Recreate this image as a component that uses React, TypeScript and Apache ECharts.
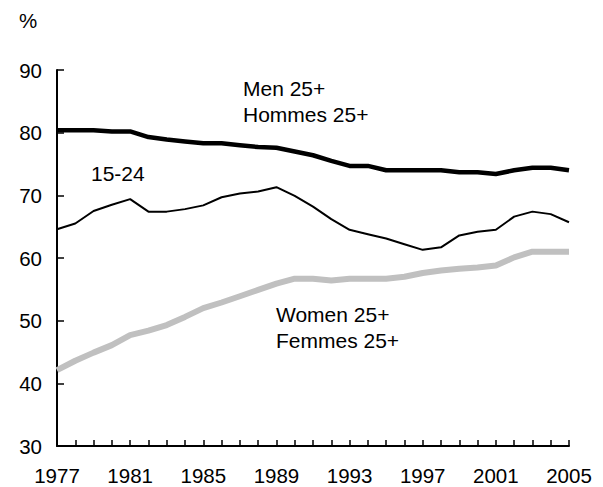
import React, { useEffect, useRef } from "react";
import * as echarts from "echarts";

const years: string[] = [];
for (let y = 1977; y <= 2005; y++) years.push(String(y));

const men25 = [80.4, 80.4, 80.4, 80.2, 80.2, 79.3, 78.9, 78.6, 78.3, 78.3, 78.0, 77.7, 77.6, 77.0, 76.4, 75.5, 74.7, 74.7, 74.0, 74.0, 74.0, 74.0, 73.7, 73.7, 73.4, 74.0, 74.4, 74.4, 74.0];
const youth1524 = [64.6, 65.5, 67.5, 68.5, 69.4, 67.4, 67.4, 67.8, 68.4, 69.7, 70.3, 70.6, 71.3, 69.9, 68.2, 66.2, 64.5, 63.8, 63.1, 62.2, 61.3, 61.7, 63.6, 64.2, 64.5, 66.6, 67.4, 67.0, 65.7];
const women25 = [42.1, 43.6, 44.9, 46.1, 47.7, 48.4, 49.3, 50.6, 52.0, 52.9, 53.9, 54.9, 55.9, 56.7, 56.7, 56.4, 56.7, 56.7, 56.7, 57.0, 57.6, 58.0, 58.3, 58.5, 58.8, 60.1, 61.0, 61.0, 61.0];

const FONT = "'Liberation Sans', Arial, Helvetica, sans-serif";

export default function App() {
  const ref = useRef<HTMLDivElement>(null);
  useEffect(() => {
    if (!ref.current) return;
    const chart = echarts.init(ref.current, undefined, { renderer: "svg" });
    const txt = (text: string, x: number, y: number, size = 21) => ({
      type: "text",
      x,
      y,
      style: { text, fill: "#000", font: `${size}px ${FONT}`, verticalAlign: "middle", align: "left" },
    });
    chart.setOption({
      animation: false,
      backgroundColor: "#fff",
      grid: { left: 57, right: 34, top: 70, bottom: 41, containLabel: false },
      xAxis: {
        type: "category",
        data: years,
        boundaryGap: false,
        axisLine: { lineStyle: { color: "#000", width: 2 } },
        axisTick: { inside: true, length: 6, interval: 0, lineStyle: { color: "#000", width: 1.5 } },
        axisLabel: { interval: 3, color: "#000", fontSize: 20.5, fontFamily: FONT, margin: 19 },
        splitLine: { show: false },
      },
      yAxis: {
        type: "value",
        min: 30,
        max: 90,
        interval: 10,
        axisLine: { show: true, lineStyle: { color: "#000", width: 2 } },
        axisTick: { show: true, inside: true, length: 7, lineStyle: { color: "#000", width: 1.5 } },
        axisLabel: { color: "#000", fontSize: 20.5, fontFamily: FONT, margin: 15 },
        splitLine: { show: false },
      },
      series: [
        {
          name: "Women 25+",
          type: "line",
          data: women25,
          symbol: "none",
          lineStyle: { color: "#c0c0c0", width: 6 },
        },
        {
          name: "15-24",
          type: "line",
          data: youth1524,
          symbol: "none",
          lineStyle: { color: "#000", width: 2 },
        },
        {
          name: "Men 25+",
          type: "line",
          data: men25,
          symbol: "none",
          lineStyle: { color: "#000", width: 4.5 },
        },
      ],
      graphic: [
        txt("%", 19, 20, 20.5),
        txt("Men 25+", 243, 88),
        txt("Hommes 25+", 243, 114),
        txt("15-24", 91, 173),
        txt("Women 25+", 276, 314),
        txt("Femmes 25+", 276, 340),
      ],
    });
    return () => chart.dispose();
  }, []);
  return <div ref={ref} style={{ position: "absolute", left: 0, top: 0, width: 603, height: 487 }} />;
}
